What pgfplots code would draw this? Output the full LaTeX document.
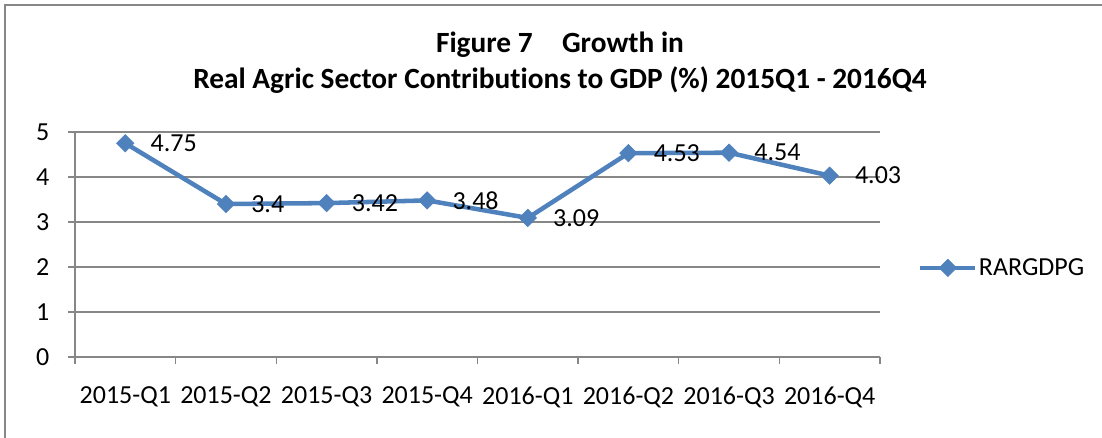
\documentclass[border=0pt]{standalone}
\usepackage{fontspec}
\setmainfont{Carlito}[Ligatures=NoCommon]
\usepackage{pgfplots}
\pgfplotsset{compat=1.18}

\definecolor{serieblue}{HTML}{4F81BD}
\definecolor{gridgray}{HTML}{878787}
\newcommand{\lblfont}{\fontsize{19.5pt}{23pt}\selectfont}

\pgfplotstableread{
x y lab
1 4.75 4.75
2 3.40 3.4
3 3.42 3.42
4 3.48 3.48
5 3.09 3.09
6 4.53 4.53
7 4.54 4.54
8 4.03 4.03
}\rargdpg

\begin{document}
\begin{tikzpicture}
% page = 1102 x 438 px, 1px = 0.75pt
\path[use as bounding box] (0pt,0pt) rectangle (826.5pt,-328.5pt);
\draw[gridgray,line width=1.5pt] (3.75pt,-330pt) -- (3.75pt,-3.75pt) -- (830pt,-3.75pt);
\node[font=\bfseries\fontsize{22pt}{26pt}\selectfont] at (420pt,-33.75pt) {Figure 7\hspace{1em}Growth in};
\node[font=\bfseries\fontsize{22pt}{26pt}\selectfont] at (420pt,-60pt) {Real Agric Sector Contributions to GDP (\%) 2015Q1 - 2016Q4};
\begin{axis}[
  at={(56.25pt,-267.75pt)}, anchor=south west,
  scale only axis, width=603.75pt, height=168.75pt,
  xmin=0.5, xmax=8.5, ymin=0, ymax=5,
  axis lines=left, axis line style={-,gridgray,line width=1.1pt},
  clip=false,
  xtick={0.5,1.5,...,8.5}, xticklabels={},
  extra x ticks={1,...,8},
  extra x tick labels={2015-Q1,2015-Q2,2015-Q3,2015-Q4,2016-Q1,2016-Q2,2016-Q3,2016-Q4},
  extra x tick style={major tick length=0pt},
  ytick={0,...,5},
  ymajorgrids, grid style={gridgray,line width=1.1pt},
  tick align=outside, major tick length=5pt,
  tick style={gridgray,line width=1.1pt},
  /pgf/number format/assume math mode=true,
  tick label style={font=\lblfont, inner sep=0pt},
  xticklabel style={anchor=center, yshift=-30pt},
  yticklabel style={anchor=east, xshift=-14pt},
  legend style={at={(axis description cs:1.047,0.396)}, anchor=west,
    draw=none, fill=none, inner sep=0pt, font=\lblfont,
    nodes={inner sep=1pt}},
  legend cell align=left,
  legend image code/.code={
    \draw[#1,mark repeat=2,mark phase=2] plot coordinates {(0pt,0pt) (20.6pt,0pt) (41.25pt,0pt)};
  },
]
\addplot[serieblue, line width=3.4pt, mark=square*, 
  mark options={rotate=45, scale=1, solid, line width=0.5pt},
  mark size=4.6pt,
  point meta=explicit symbolic,
  nodes near coords,
  nodes near coords style={anchor=west, xshift=18.75pt, inner sep=0pt, black, font=\lblfont},
] table[x=x, y=y, meta=lab] {\rargdpg};
\addlegendentry{RARGDPG}
\end{axis}
\end{tikzpicture}
\end{document}
